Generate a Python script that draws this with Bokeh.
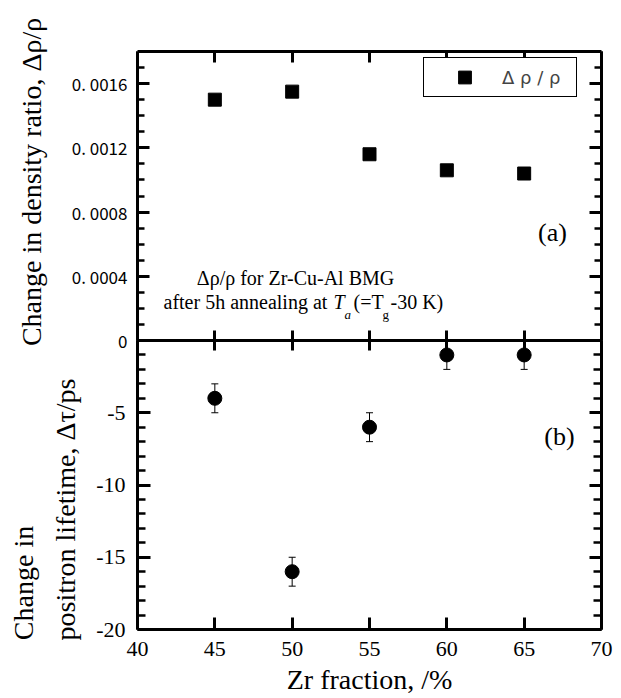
from bokeh.plotting import figure
from bokeh.models import (Range1d, LinearAxis, FixedTicker, Label, Legend, LegendItem,
                          ColumnDataSource, Whisker, TeeHead)
from bokeh.layouts import column
from bokeh.embed import file_html
from bokeh.resources import INLINE

# ---------------- data ----------------
ZR_FRACTION = [45, 50, 55, 60, 65]
DENSITY_RATIO = [0.00150, 0.00155, 0.00116, 0.00106, 0.00104]
LIFETIME_CHANGE = [-4, -16, -6, -1, -1]
LIFETIME_ERR = [1, 1, 1, 1, 1]

X_TICKS = [40, 45, 50, 55, 60, 65, 70]
TOP_Y_TICKS = [0, 0.0004, 0.0008, 0.0012, 0.0016]
TOP_Y_LABELS = ["0", "0. 0004", "0. 0008", "0. 0012", "0. 0016"]
TOP_Y_MINOR = [0.0001, 0.0002, 0.0003, 0.0005, 0.0006, 0.0007, 0.0009, 0.0010,
               0.0011, 0.0013, 0.0014, 0.0015, 0.0017]
BOT_Y_TICKS = [-20, -15, -10, -5]
BOT_Y_LABELS = ["-20", "-15", "-10", "-5"]
BOT_Y_MINOR = [-19, -18, -17, -16, -14, -13, -12, -11, -9, -8, -7, -6, -4, -3, -2, -1]

SERIF = "Liberation Serif"
GOTHIC = "Noto Sans CJK JP"
NB = "\u00a0"

FRAME_W, FRAME_H = 464, 289
B_LEFT, B_RIGHT, B_TOP, B_BOTTOM = 137, 20, 51, 69
OVERLAP = 44      # extra canvas below the top frame (lets its texts spill down)
B2_TOP = 20       # transparent canvas above the bottom frame


def make_fig(y_range, top, bottom, **kw):
    p = figure(frame_width=FRAME_W, frame_height=FRAME_H,
               x_range=Range1d(40, 70), y_range=y_range,
               min_border_left=B_LEFT, min_border_right=B_RIGHT,
               min_border_top=top, min_border_bottom=bottom,
               x_axis_location=None, y_axis_location=None,
               output_backend="svg", toolbar_location=None, **kw)
    p.outline_line_color = None
    p.grid.visible = False
    return p


def make_axis(ticks, minor, tick_in, minor_in, labels=None, show_minor=True,
              font=SERIF, size="22px", standoff=10):
    ax = LinearAxis(ticker=FixedTicker(ticks=ticks, minor_ticks=minor if show_minor else []))
    ax.axis_line_width = 3
    ax.axis_line_color = "black"
    ax.major_tick_line_width = 3
    ax.major_tick_in = tick_in
    ax.major_tick_out = 0
    ax.minor_tick_line_width = 2.5
    ax.minor_tick_in = minor_in
    ax.minor_tick_out = 0
    if not show_minor:
        ax.minor_tick_line_color = None
    if labels is None:
        ax.major_label_overrides = {t: "" for t in ticks}
        ax.major_label_text_font_size = "0px"
        ax.major_label_standoff = 0
    else:
        if labels != "default":
            ax.major_label_overrides = dict(zip(ticks, labels))
        ax.major_label_text_font = font
        ax.major_label_text_font_size = size
        ax.major_label_text_color = "black"
        ax.major_label_standoff = standoff
    ax.axis_label_text_font = SERIF
    ax.axis_label_text_font_size = "28px"
    ax.axis_label_text_font_style = "normal"
    ax.axis_label_text_color = "black"
    return ax


def lab(p, text, dx, dy, size, font=SERIF, style="normal", align="left",
        baseline="alphabetic"):
    # positions relative to the frame's top-left corner at data (40, 0)
    p.add_layout(Label(x=40, y=0, x_offset=dx, y_offset=dy, text=text,
                       text_font=font, text_font_size=size, text_font_style=style,
                       text_align=align, text_baseline=baseline, text_color="black"))


# ---------------- top panel (a) ----------------
p1 = make_fig(Range1d(0, 0.0018), B_TOP, OVERLAP,
              background_fill_color="white", border_fill_color="white")
left1 = make_axis(TOP_Y_TICKS, TOP_Y_MINOR, 12, 7, labels=TOP_Y_LABELS,
                  font=GOTHIC, size="17px", standoff=10)
left1.axis_label = NB * 4 + "Change in density ratio, Δρ/ρ"
left1.axis_label_standoff = 22
p1.add_layout(left1, "left")
p1.add_layout(make_axis(TOP_Y_TICKS, TOP_Y_MINOR, 12, 7), "right")
p1.add_layout(make_axis(X_TICKS, [], 11, 0, show_minor=False), "above")
p1.add_layout(make_axis(X_TICKS, [], 10, 0, show_minor=False), "below")

src1 = ColumnDataSource(dict(x=ZR_FRACTION, y=DENSITY_RATIO))
sq = p1.scatter("x", "y", source=src1, marker="square", size=13,
                fill_color="black", line_color="black")

legend = Legend(items=[LegendItem(label="Δ ρ / ρ", renderers=[sq])],
                location=(286, 243), margin=0, padding=3, spacing=0,
                glyph_width=75, glyph_height=32, label_height=32, label_width=71,
                label_standoff=0, border_line_color="black", border_line_width=1.5,
                border_line_alpha=1.0,
                background_fill_color="white", background_fill_alpha=1.0,
                label_text_font="DejaVu Sans", label_text_font_size="18px")
p1.add_layout(legend)

# annotation
lab(p1, "Δρ/ρ for Zr-Cu-Al BMG", 158, 63, "20px", align="center")
lab(p1, "after 5h annealing at", 26, 39, "20px")
lab(p1, "T", 196, 39, "20px", style="italic")
lab(p1, "a", 207, 26, "13px", style="italic")
lab(p1, "(=T", 216, 39, "20px")
lab(p1, "g", 245, 26, "13px")
lab(p1, "-30 K)", 253, 39, "20px")
lab(p1, "(a)", 415, 108, "26px", align="center", baseline="middle")

# ---------------- bottom panel (b) ----------------
p2 = make_fig(Range1d(-20, 0), B2_TOP, B_BOTTOM,
              background_fill_alpha=0.0, border_fill_alpha=0.0,
              margin=(-(OVERLAP + B2_TOP), 0, 0, 0))
left2 = make_axis(BOT_Y_TICKS, BOT_Y_MINOR, 13, 8, labels=BOT_Y_LABELS,
                  size="22px", standoff=12)
left2.axis_label = ("Change in" + NB * 21 + NB * 7 + "\n"
                    + "positron lifetime, Δτ/ps" + NB * 7)
left2.axis_label_standoff = 12
left2.axis_label_text_line_height = 1.35
p2.add_layout(left2, "left")
p2.add_layout(make_axis(BOT_Y_TICKS, BOT_Y_MINOR, 12, 8), "right")
p2.add_layout(make_axis(X_TICKS, [], 10, 0, show_minor=False), "above")
below2 = make_axis(X_TICKS, [], 12, 0, labels="default", show_minor=False,
                   size="22px", standoff=12)
below2.axis_label = "Zr fraction, /%"
below2.axis_label_standoff = 5
p2.add_layout(below2, "below")

src2 = ColumnDataSource(dict(
    x=ZR_FRACTION, y=LIFETIME_CHANGE,
    upper=[v + e for v, e in zip(LIFETIME_CHANGE, LIFETIME_ERR)],
    lower=[v - e for v, e in zip(LIFETIME_CHANGE, LIFETIME_ERR)]))
p2.add_layout(Whisker(base="x", upper="upper", lower="lower", source=src2,
                      line_color="black", line_width=1,
                      upper_head=TeeHead(size=7, line_width=1, line_color="black"),
                      lower_head=TeeHead(size=7, line_width=1, line_color="black")))
p2.scatter("x", "y", source=src2, marker="circle", size=14,
           fill_color="black", line_color="black")
lab(p2, "(b)", 422, -96, "26px", align="center", baseline="middle")

layout = column(p1, p2, spacing=0)
open("out.html", "w").write(file_html(layout, INLINE))
